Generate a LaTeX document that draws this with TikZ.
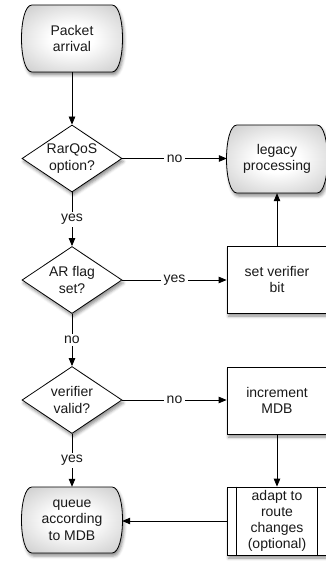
\documentclass[tikz,border=0pt]{standalone}
\usepackage{fontspec}
\setmainfont{Liberation Sans}
\usetikzlibrary{shapes.geometric,shadows.blur,arrows.meta}
\pgfdeclareradialshading{termshade}{\pgfpoint{0bp}{0bp}}{%
  color(0bp)=(white); color(10bp)=(white); color(50bp)=(black!34); color(72bp)=(black!50)}
\newcommand\termshapepath[4]{%
  \path[termshape] (#1-40,#2-#3) -- (#1+40,#2-#3)
    .. controls (#1+54,#2-#3) and (#1+54,#2+#3) .. (#1+40,#2+#3)
    -- (#1-40,#2+#3)
    .. controls (#1-54,#2+#3) and (#1-54,#2-#3) .. (#1-40,#2-#3) -- cycle;
  \node[termtext,minimum height=2*#3 pt] #4;}
\begin{document}
\begin{tikzpicture}[x=1pt,y=-1pt,
  font=\fontsize{14}{16.5}\selectfont,
  every node/.append style={text=black!90},
  shad/.style={blur shadow={shadow xshift=1.5pt,shadow yshift=-3pt,shadow blur radius=3pt,shadow opacity=45}},
  termshape/.style={draw=black,line width=0.8pt,shade,shading=termshade,shad},
  termtext/.style={rectangle,minimum width=100pt,inner sep=0pt,align=center},
  decision/.style={diamond,draw=black,line width=0.8pt,fill=white,minimum width=100pt,minimum height=67pt,inner sep=0pt,aspect=1.5,align=center,shad},
  procbox/.style={rectangle,draw=black,line width=0.8pt,fill=white,minimum width=100pt,minimum height=67pt,inner sep=0pt,align=center,shad},
  arr/.style={draw=black,line width=0.8pt,-{Triangle[length=8pt,width=6.5pt]}},
  lbl/.style={fill=white,inner sep=2.5pt}
]
\useasboundingbox (0,0) rectangle (325,561);

\termshapepath{72}{38.5}{33.5}{(pa) at (72,38.5) {Packet\\arrival}}
\node[decision] (rq) at (72,158.5) {RarQoS\\option?};
\termshapepath{277}{159}{34}{(lp) at (277,159) {legacy\\processing}}
\node[decision] (ar) at (72,280) {AR flag\\set?};
\node[procbox] (sv) at (277,279.5) {set verifier\\bit};
\node[decision] (vv) at (72,400) {verifier\\valid?};
\node[procbox] (im) at (277,400.5) {increment\\MDB};
\termshapepath{72}{520}{33}{(qa) at (72,520) {queue\\according\\to MDB}}
\node[procbox,minimum height=68pt,font=\fontsize{14}{16}\selectfont] (ad) at (277,521) {adapt to\\route\\changes\\(optional)};
\draw[line width=0.8pt] ([xshift=10pt]ad.north west) -- ([xshift=10pt]ad.south west);
\draw[line width=0.8pt] ([xshift=-10pt]ad.north east) -- ([xshift=-10pt]ad.south east);

\draw[arr] (pa) -- (rq);
\draw[arr] (rq.east) -- node[lbl]{no} (rq.east -| lp.west);
\draw[arr] (rq) -- node[lbl]{yes} (ar);
\draw[arr] (ar.east) -- node[lbl]{yes} (ar.east -| sv.west);
\draw[arr] (sv) -- (lp);
\draw[arr] (ar) -- node[lbl]{no} (vv);
\draw[arr] (vv.east) -- node[lbl]{no} (vv.east -| im.west);
\draw[arr] (vv) -- node[lbl]{yes} (qa);
\draw[arr] (im) -- (ad);
\draw[arr] (ad.west) -- (ad.west -| qa.east);
\end{tikzpicture}
\end{document}
